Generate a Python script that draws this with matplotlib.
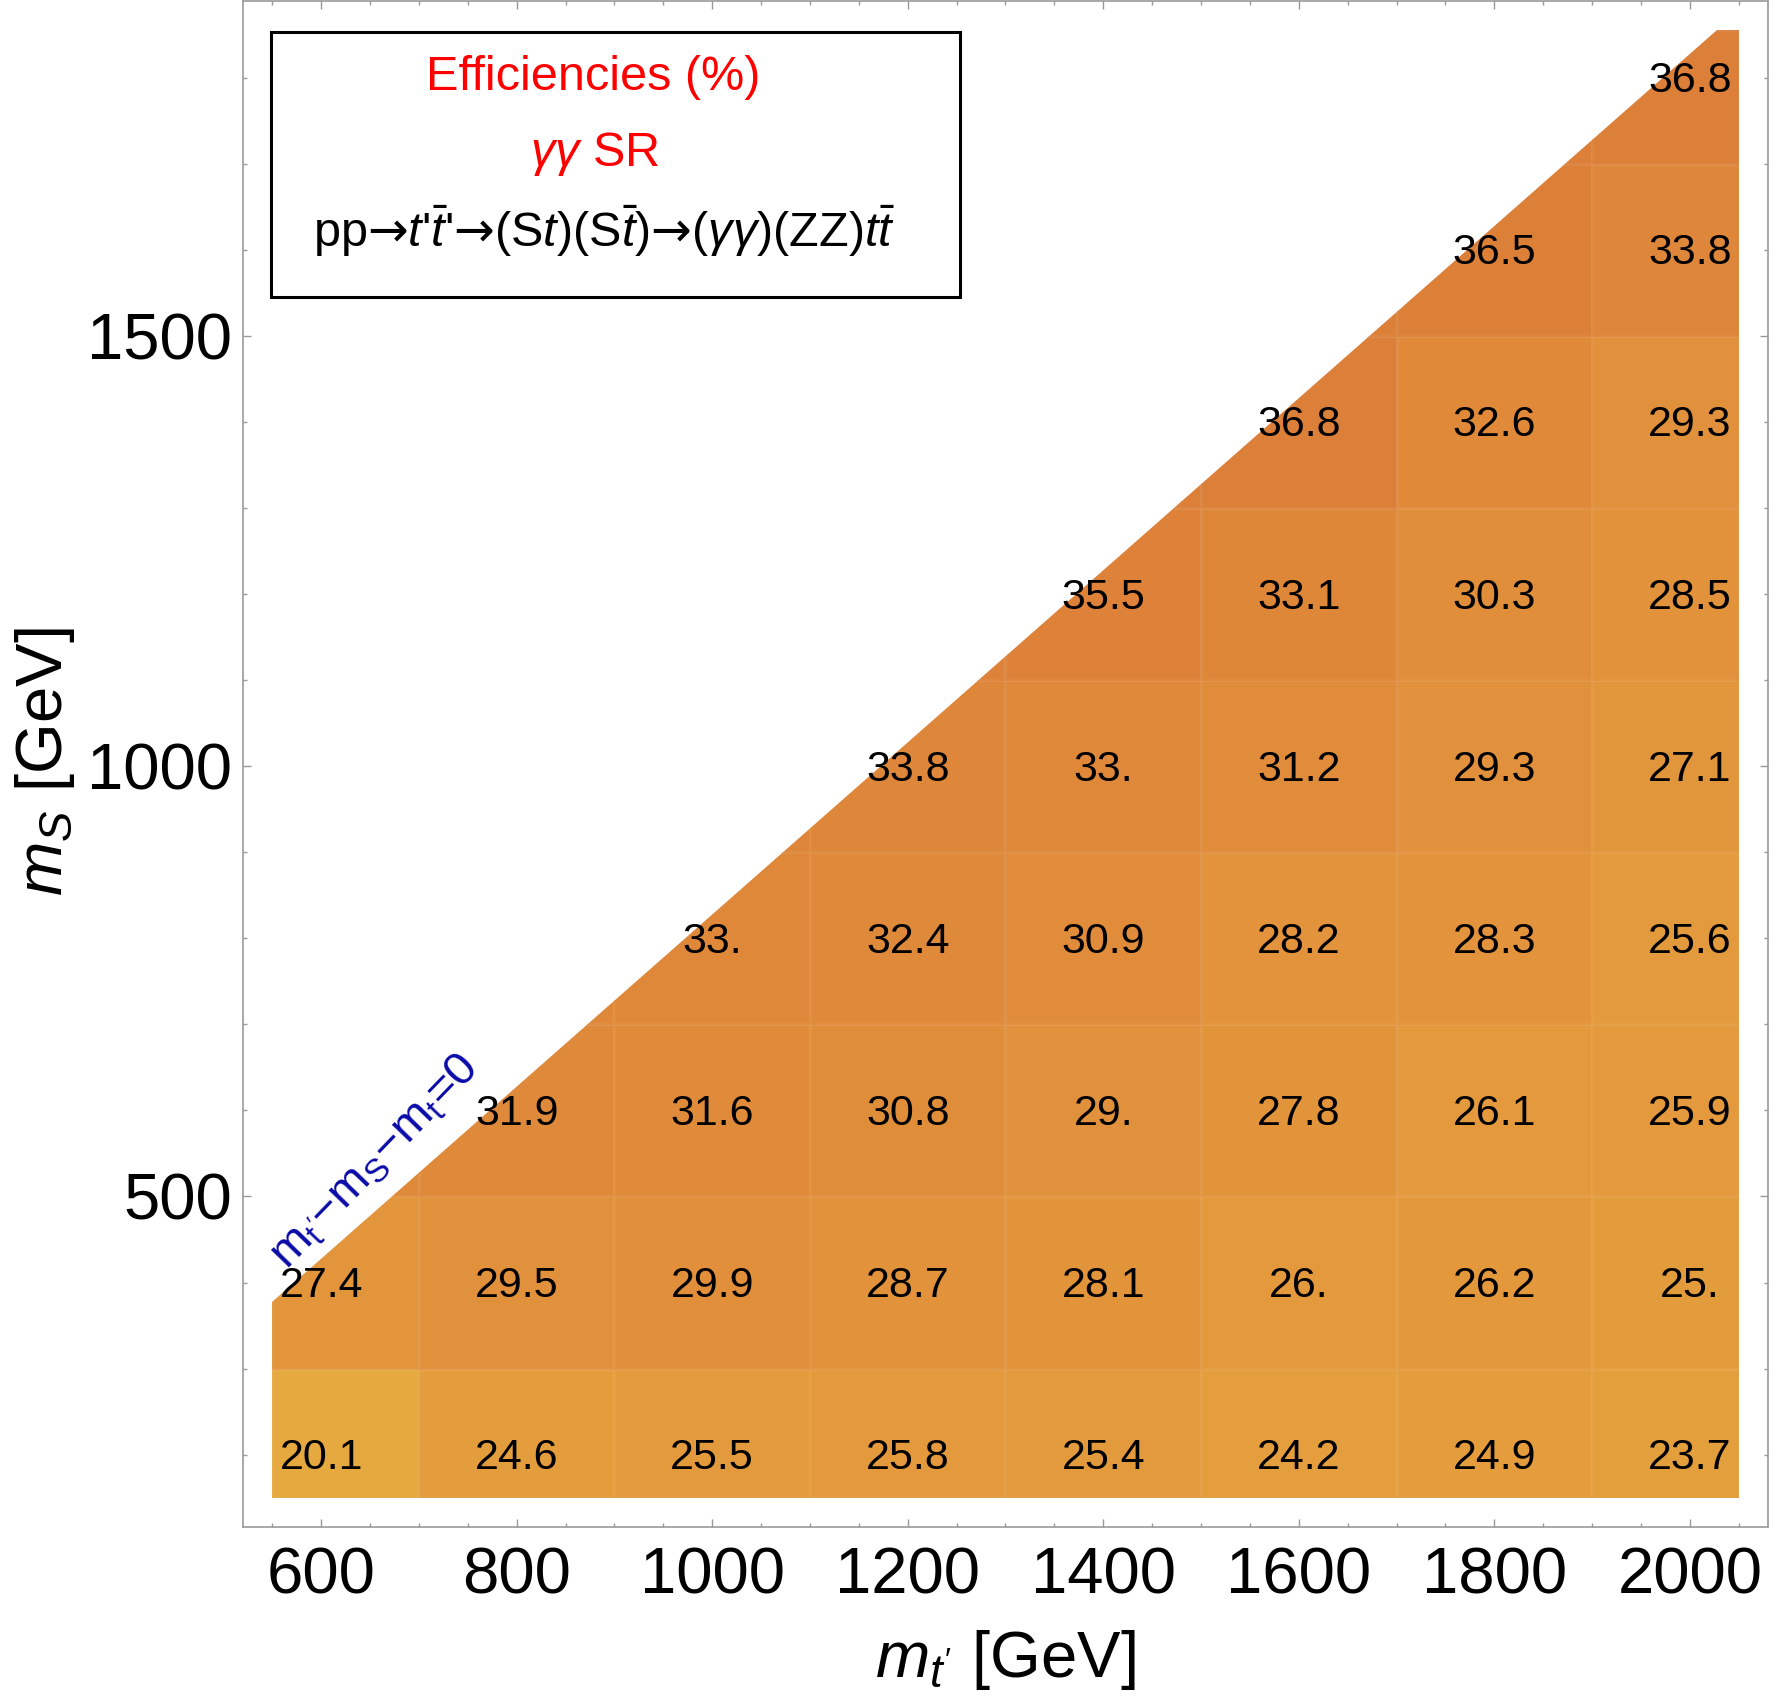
import numpy as np
import matplotlib
matplotlib.use("Agg")
import matplotlib.pyplot as plt
from matplotlib.colors import LinearSegmentedColormap
from matplotlib.patches import Polygon, Rectangle
from matplotlib.transforms import offset_copy

plt.rcParams["font.family"] = ["Liberation Sans", "DejaVu Sans"]
plt.rcParams["mathtext.fontset"] = "custom"
plt.rcParams["mathtext.rm"] = "Liberation Sans"
plt.rcParams["mathtext.it"] = "Liberation Sans:italic"
plt.rcParams["mathtext.bf"] = "Liberation Sans:bold"
plt.rcParams["mathtext.sf"] = "DejaVu Sans"   # wide arrows

# ---- data -------------------------------------------------------------------
MT = [600, 800, 1000, 1200, 1400, 1600, 1800, 2000]          # m_t' [GeV]
MS = [200, 400, 600, 800, 1000, 1200, 1400, 1600, 1800]      # m_S [GeV]
nan = np.nan
EFF = [
    [20.1, 24.6, 25.5, 25.8, 25.4, 24.2, 24.9, 23.7],   # mS = 200
    [27.4, 29.5, 29.9, 28.7, 28.1, 26.0, 26.2, 25.0],   # 400
    [nan, 31.9, 31.6, 30.8, 29.0, 27.8, 26.1, 25.9],    # 600
    [nan, nan, 33.0, 32.4, 30.9, 28.2, 28.3, 25.6],     # 800
    [nan, nan, nan, 33.8, 33.0, 31.2, 29.3, 27.1],      # 1000
    [nan, nan, nan, nan, 35.5, 33.1, 30.3, 28.5],       # 1200
    [nan, nan, nan, nan, nan, 36.8, 32.6, 29.3],        # 1400
    [nan, nan, nan, nan, nan, nan, 36.5, 33.8],         # 1600
    [nan, nan, nan, nan, nan, nan, nan, 36.8],          # 1800
]
M_TOP = 173.0

# plotted region
X_LO, X_HI = 550, 2050
Y_LO, Y_HI = 150, 1855

# ---- figure -----------------------------------------------------------------
W, H = 1771, 1698
fig = plt.figure(figsize=(W / 100, H / 100), dpi=100)
ax = fig.add_axes([243 / W, 1 - 1527 / H, 1525 / W, 1526 / H])

eff = np.array(EFF, dtype=float)
mt = np.array(MT, dtype=float)
ms = np.array(MS, dtype=float)
xe = np.concatenate([[X_LO], (mt[:-1] + mt[1:]) / 2, [X_HI]])
ye = np.concatenate([[Y_LO], (ms[:-1] + ms[1:]) / 2, [Y_HI]])

# zero-order display: the thin slivers under the diagonal take the
# neighbouring cell's value (like the nearest-point shading of the original)
disp = eff.copy()
for i in range(disp.shape[0]):
    for j in range(disp.shape[1] - 1):
        if np.isnan(eff[i, j]) and not np.isnan(eff[i, j + 1]):
            disp[i, j] = eff[i, j + 1]

cmap = LinearSegmentedColormap.from_list(
    "eff", [(0.0, "#e6a93f"), (0.35, "#e3993c"), (0.65, "#e08c3a"), (1.0, "#dc7f38")])
mesh = ax.pcolormesh(xe, ye, np.ma.masked_invalid(disp), cmap=cmap, vmin=20, vmax=37,
                     edgecolors=(1, 1, 1, 0.05), linewidth=0.8)
region = Polygon([(X_LO, Y_LO), (X_HI, Y_LO), (X_HI, Y_HI), (Y_HI + M_TOP, Y_HI),
                  (X_LO, X_LO - M_TOP)], closed=True, transform=ax.transData,
                 facecolor="none", edgecolor="none")
ax.add_patch(region)
mesh.set_clip_path(region)


def fmt(v):
    s = "%.1f" % v
    return s[:-1] if s.endswith(".0") else s


num_tr = offset_copy(ax.transData, fig=fig, x=0, y=-3.5, units="dots")
for i, y in enumerate(MS):
    for j, x in enumerate(MT):
        v = eff[i, j]
        if not np.isnan(v):
            ax.text(x, y, fmt(v), ha="center", va="center", fontsize=31, color="black",
                    transform=num_tr)

# diagonal annotation
ax.text(655, 540, r"m$_{\mathrm{t}'}$$-$m$_{\mathrm{S}}$$-$m$_{\mathrm{t}}$=0",
        color="#0a0aa8", fontsize=34, rotation=46, rotation_mode="anchor",
        ha="center", va="center")

# legend box
ax.add_patch(Rectangle((0.0184, 0.806), 0.4516, 0.174, transform=ax.transAxes,
                       facecolor="white", edgecolor="black", linewidth=2.2, zorder=5))
ax.text(0.2295, 0.950, "Efficiencies (%)", transform=ax.transAxes, color="red",
        fontsize=35, ha="center", va="center", zorder=6)
ax.text(0.2308, 0.900, r"$\gamma\gamma$ SR", transform=ax.transAxes, color="red",
        fontsize=35, ha="center", va="center", zorder=6)
ARROW = "$\\mathsf{\u2192}$"
ax.text(0.2367, 0.849,
        "pp" + ARROW + "$t$'$\\bar{t}$'" + ARROW + "(S$t$)(S$\\bar{t}$)" + ARROW +
        "($\\gamma\\gamma$)(ZZ)$t\\bar{t}$",
        transform=ax.transAxes, color="black", fontsize=35, ha="center", va="center",
        zorder=6)

# axes
ax.set_xlim(520, 2080)
ax.set_ylim(116, 1889)
ax.set_xticks(range(600, 2001, 200))
ax.set_xticks(range(550, 2051, 50), minor=True)
ax.set_yticks([500, 1000, 1500])
ax.set_yticks(range(200, 1801, 100), minor=True)
ax.tick_params(which="both", direction="in", top=True, right=True, color="#999999",
               width=1.0, labelsize=47)
ax.tick_params(which="major", length=6)
ax.tick_params(which="minor", length=3)
ax.tick_params(axis="x", pad=14)
ax.tick_params(axis="y", pad=8)
for sp in ax.spines.values():
    sp.set_color("#999999")
    sp.set_linewidth(1.2)

fig.text(1005 / W, 1 - 1660 / H, r"$m_{t'}$ [GeV]", fontsize=47, ha="center", va="center")
fig.text(45 / W, 1 - 762 / H, r"$m_S$ [GeV]", fontsize=47, ha="center", va="center",
         rotation=90)

fig.savefig("out.png", dpi=100)
